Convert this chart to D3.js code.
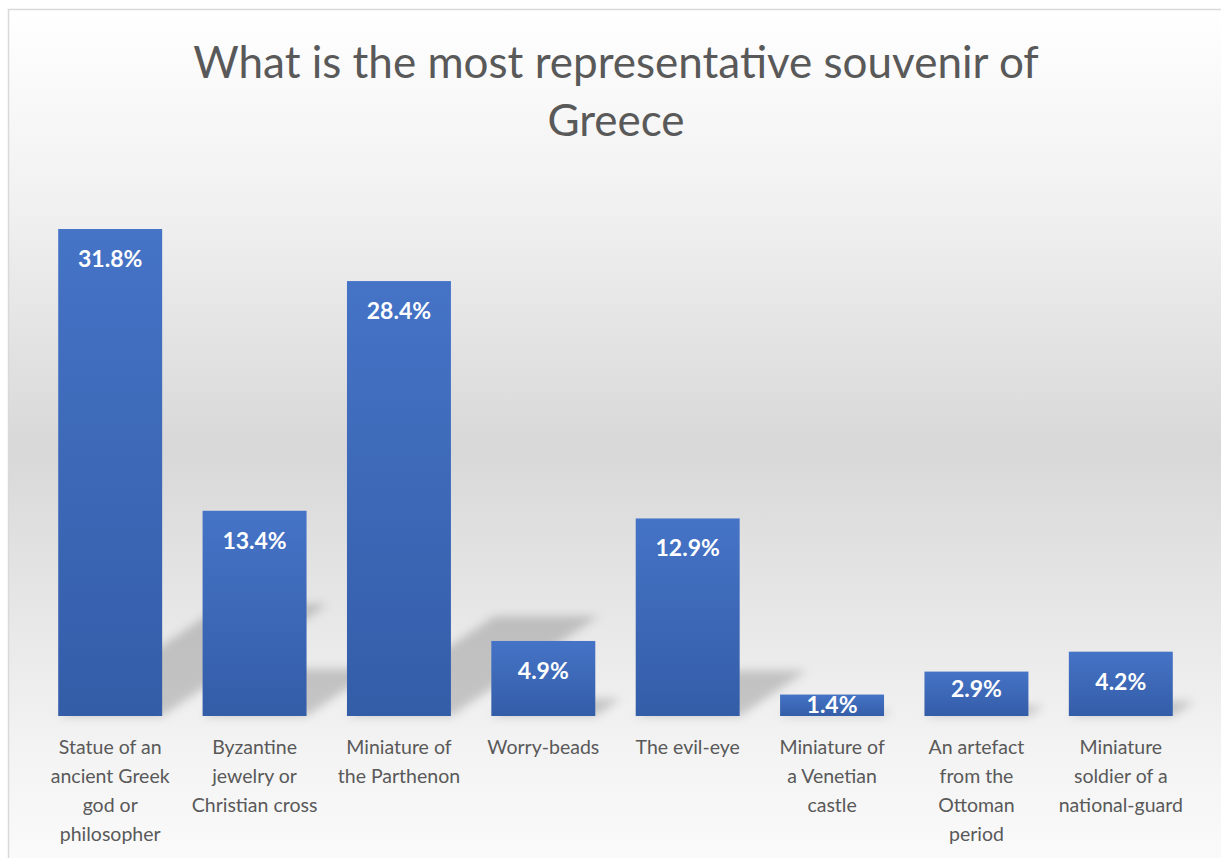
<!DOCTYPE html>
<html>
<head>
<meta charset="utf-8">
<script src="https://cdnjs.cloudflare.com/ajax/libs/d3/7.8.5/d3.min.js"></script>
<style>
  body { margin: 0; background: #ffffff; }
  svg { display: block; }
</style>
</head>
<body>
<div id="chart"></div>
<script>
// chart data
const title = ["What is the most representative souvenir of", "Greece"];
const categories = [
  "Statue of an\nancient Greek\ngod or\nphilosopher",
  "Byzantine\njewelry or\nChristian cross",
  "Miniature of\nthe Parthenon",
  "Worry-beads",
  "The evil-eye",
  "Miniature of\na Venetian\ncastle",
  "An artefact\nfrom the\nOttoman\nperiod",
  "Miniature\nsoldier of a\nnational-guard"
];
const values = [31.8, 13.4, 28.4, 4.9, 12.9, 1.4, 2.9, 4.2];
const yDomain = [0, 35];

const width = 1221;
const height = 858;
const plot = { left: 38, right: 1193, top: 180, bottom: 716 };

const svg = d3.select("#chart")
  .append("svg")
  .attr("width", width)
  .attr("height", height);

const defs = svg.append("defs");

// chart area background gradient
const bg = defs.append("linearGradient")
  .attr("id", "bg")
  .attr("x1", 0).attr("y1", 0).attr("x2", 0).attr("y2", 1);
[[0, "#ffffff"], [0.22, "#f1f1f1"], [0.5, "#d8d8d8"], [0.84, "#f3f3f3"], [1, "#fcfcfc"]]
  .forEach(s => bg.append("stop").attr("offset", s[0]).attr("stop-color", s[1]));

// bar fill gradient
const barGrad = defs.append("linearGradient")
  .attr("id", "barGrad")
  .attr("x1", 0).attr("y1", 0).attr("x2", 0).attr("y2", 1);
barGrad.append("stop").attr("offset", 0).attr("stop-color", "#4573c6");
barGrad.append("stop").attr("offset", 1).attr("stop-color", "#345da8");

defs.append("filter")
  .attr("id", "blur")
  .attr("x", "-30%").attr("y", "-30%").attr("width", "160%").attr("height", "160%")
  .append("feGaussianBlur")
  .attr("stdDeviation", 5);

svg.append("rect")
  .attr("x", 8.5)
  .attr("y", 9.5)
  .attr("width", width + 20)
  .attr("height", height + 20)
  .attr("fill", "url(#bg)")
  .attr("stroke", "#d9d9d9")
  .attr("stroke-width", 1.5);

// title
svg.append("text")
  .attr("text-anchor", "middle")
  .attr("font-family", "Lato, 'Open Sans', sans-serif")
  .attr("font-weight", 400)
  .attr("font-size", 44)
  .attr("fill", "#595959")
  .selectAll("tspan")
  .data(title)
  .enter()
  .append("tspan")
  .attr("x", 616)
  .attr("y", (d, i) => 78 + i * 58)
  .text(d => d);

let xScale = d3.scaleBand()
  .domain(categories)
  .range([plot.left, plot.right])
  .paddingInner(0.28)
  .paddingOuter(0.14);

let yScale = d3.scaleLinear()
  .domain(yDomain)
  .range([plot.bottom, plot.top]);

const data = categories.map((c, i) => ({ cat: c, value: values[i] }));

// perspective shadows
svg.append("g")
  .attr("filter", "url(#blur)")
  .selectAll("polygon")
  .data(data)
  .enter()
  .append("polygon")
  .attr("fill", "#000000")
  .attr("fill-opacity", 0.18)
  .attr("points", function (d) {
    const x0 = xScale(d.cat);
    const x1 = x0 + xScale.bandwidth();
    const base = yScale(0);
    const h = base - yScale(d.value);
    const dx = h * 0.34;
    const dy = h * 0.23;
    return [[x0, base], [x1, base], [x1 + dx, base - dy], [x0 + dx, base - dy]]
      .map(p => p.join(",")).join(" ");
  });

// bars
svg.append("g")
  .selectAll("rect")
  .data(data)
  .enter()
  .append("rect")
  .attr("x", d => xScale(d.cat))
  .attr("y", d => yScale(d.value))
  .attr("width", xScale.bandwidth())
  .attr("height", d => yScale(0) - yScale(d.value))
  .attr("fill", "url(#barGrad)");

// data labels (inside end)
svg.append("g")
  .selectAll("text")
  .data(data)
  .enter()
  .append("text")
  .attr("text-anchor", "middle")
  .attr("font-family", "Lato, 'Open Sans', sans-serif")
  .attr("font-weight", 700)
  .attr("font-size", 23)
  .attr("fill", "#ffffff")
  .attr("x", d => xScale(d.cat) + xScale.bandwidth() / 2)
  .attr("y", function (d) {
    const top = yScale(d.value);
    const bottom = yScale(0);
    let b = Math.min(top + 38, bottom - 19);
    if (b - 16 < top) b = (top + bottom) / 2 + 8;
    return b;
  })
  .text(d => d.value.toFixed(1) + "%");

// x axis (no line, no ticks)
let xAxis = d3.axisBottom(xScale).tickSize(0).tickFormat("");
const gx = svg.append("g")
  .attr("id", "x-axis")
  .attr("transform", "translate(0," + plot.bottom + ")")
  .call(xAxis);
gx.select(".domain").remove();

gx.selectAll(".tick text")
  .attr("font-family", "Lato, 'Open Sans', sans-serif")
  .attr("font-size", 19.5)
  .attr("fill", "#595959")
  .attr("y", 0)
  .attr("dy", null)
  .each(function (d) {
    const t = d3.select(this);
    d.split("\n").forEach((line, i) => {
      t.append("tspan")
        .attr("x", 0)
        .attr("y", 38 + i * 29)
        .text(line);
    });
  });
</script>
</body>
</html>
